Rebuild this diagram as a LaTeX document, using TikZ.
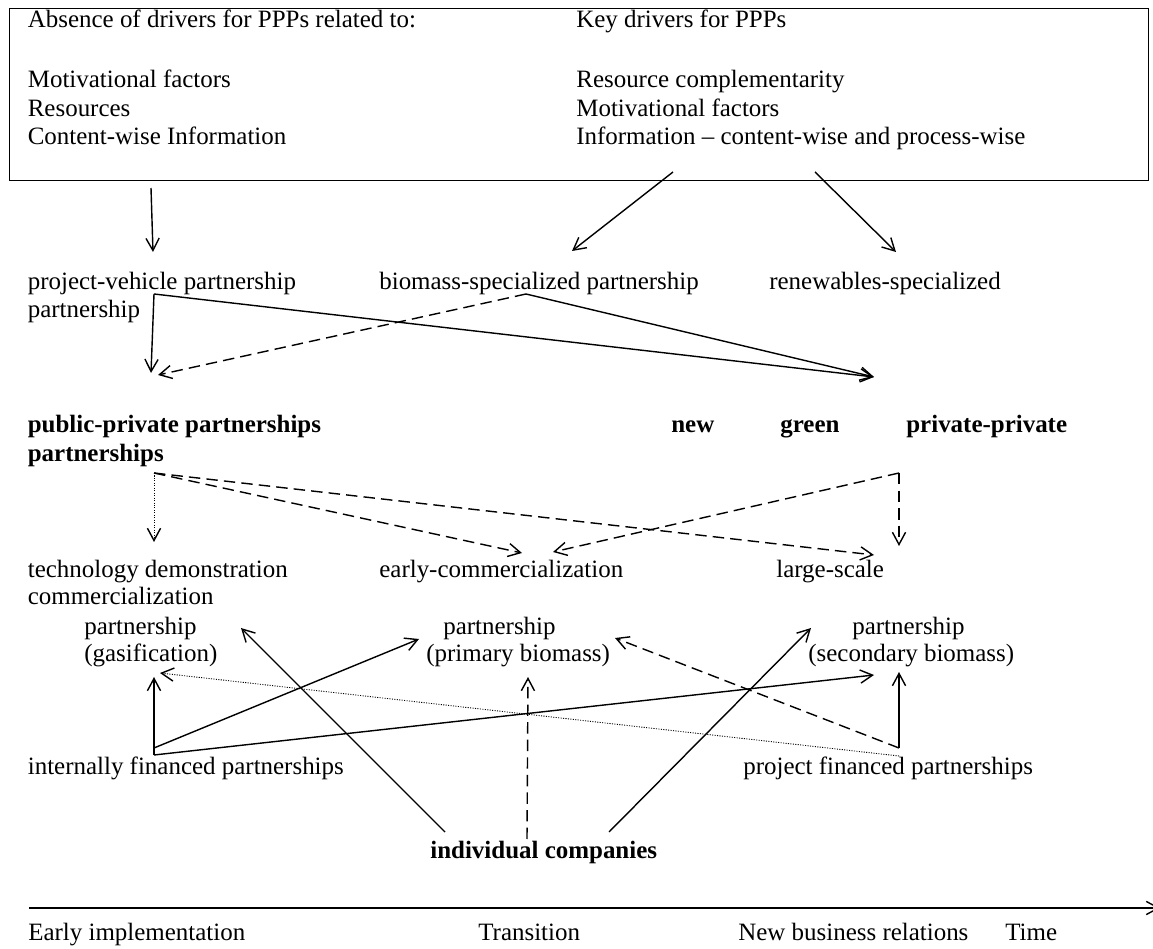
\documentclass[tikz,border=0pt]{standalone}
\usepackage{fontspec}
\setmainfont{Liberation Serif}
\usepackage{tikz}
\usetikzlibrary{arrows.meta}

\tikzset{
  txt/.style={anchor=base west, inner sep=0pt, font=\fontsize{14.2}{16.2}\selectfont},
  btxt/.style={txt, font=\fontsize{14.2}{16.2}\selectfont\bfseries},
  link/.style={line width=0.8pt, -{Straight Barb[length=7pt,width=7.5pt,line width=0.8pt]}},
  dlink/.style={link, dash pattern=on 6.5pt off 3.5pt},
  plink/.style={link, line width=0.5pt, dash pattern=on 0.6pt off 0.8pt},
}

\begin{document}
\begin{tikzpicture}
    \useasboundingbox (0,0) rectangle (23.06,18.96);

    % Drivers box
    \node[draw, line width=0.8pt, anchor=north west, inner sep=0pt,
          minimum width=22.78cm, minimum height=3.44cm] (drivers) at (0.18,18.80) {};
    \node[txt] (absence) at (0.55,18.40) {Absence of drivers for PPPs related to:};
    \node[txt] (motiv) at (0.55,17.20) {Motivational factors};
    \node[txt] (resources) at (0.55,16.62) {Resources};
    \node[txt] (content) at (0.55,16.06) {Content-wise Information};
    \node[txt] (key) at (11.52,18.40) {Key drivers for PPPs};
    \node[txt] (complement) at (11.52,17.20) {Resource complementarity};
    \node[txt] (motivkey) at (11.52,16.62) {Motivational factors};
    \node[txt] (info) at (11.52,16.06) {Information -- content-wise and process-wise};

    % Partnership types
    \node[txt] (pvp) at (0.55,13.16) {project-vehicle partnership};
    \node[txt] (pvpb) at (0.55,12.60) {partnership};
    \node[txt] (bsp) at (7.58,13.16) {biomass-specialized partnership};
    \node[txt] (rsp) at (15.38,13.16) {renewables-specialized};

    % Partner constellations
    \node[btxt] (ppp) at (0.55,10.30) {public-private partnerships};
    \node[btxt] (pppb) at (0.55,9.72) {partnerships};
    \node[btxt] (newp) at (13.42,10.30) {new};
    \node[btxt] (greenp) at (15.60,10.30) {green};
    \node[btxt] (privp) at (18.12,10.30) {private-private};

    % Stages
    \node[txt] (tdp) at (0.55,7.40) {technology demonstration};
    \node[txt] (tdpb) at (0.55,6.86) {commercialization};
    \node[txt] (ecp) at (7.58,7.40) {early-commercialization};
    \node[txt] (lsp) at (15.52,7.40) {large-scale};

    \node[txt] (gas) at (1.68,6.26) {partnership};
    \node[txt] (gasb) at (1.68,5.72) {(gasification)};
    \node[txt] (prim) at (8.86,6.26) {partnership};
    \node[txt] (primb) at (8.52,5.72) {(primary biomass)};
    \node[txt] (sec) at (17.04,6.26) {partnership};
    \node[txt] (secb) at (16.16,5.72) {(secondary biomass)};

    % Financing
    \node[txt] (ifp) at (0.55,3.46) {internally financed partnerships};
    \node[txt] (pfp) at (14.86,3.46) {project financed partnerships};
    \node[btxt] (ic) at (8.60,1.80) {individual companies};

    % Time line
    \node[txt] (early) at (0.56,0.16) {Early implementation};
    \node[txt] (trans) at (9.56,0.16) {Transition};
    \node[txt] (newrel) at (14.76,0.16) {New business relations};
    \node[txt] (time) at (20.10,0.16) {Time};

    % Connector points
    \coordinate (dA) at (3.02,15.20);
    \coordinate (dB) at (13.46,15.52);
    \coordinate (dC) at (16.30,15.52);
    \coordinate (pvpTop) at (3.06,13.92);
    \coordinate (bspTop) at (11.44,13.94);
    \coordinate (rspTop) at (17.92,13.92);
    \coordinate (pvpOut) at (3.08,13.08);
    \coordinate (bspOut) at (10.52,13.08);
    \coordinate (pppTop) at (3.02,11.50);
    \coordinate (pppTopB) at (3.16,11.46);
    \coordinate (privTop) at (17.48,11.42);
    \coordinate (pppOut) at (3.08,9.50);
    \coordinate (privOut) at (17.98,9.50);
    \coordinate (tdpTop) at (3.08,8.12);
    \coordinate (ecpL) at (10.44,7.90);
    \coordinate (ecpR) at (11.06,7.92);
    \coordinate (lspL) at (17.48,7.86);
    \coordinate (lspR) at (17.98,8.04);
    \coordinate (gasIn) at (3.08,5.42);
    \coordinate (gasInB) at (3.20,5.50);
    \coordinate (tdpIn) at (4.82,6.40);
    \coordinate (primIn) at (8.38,6.18);
    \coordinate (primInB) at (10.56,5.42);
    \coordinate (primInC) at (12.30,6.20);
    \coordinate (secIn) at (16.22,6.40);
    \coordinate (secInB) at (17.48,5.46);
    \coordinate (secInC) at (17.98,5.52);
    \coordinate (ifpOut) at (3.08,4.00);
    \coordinate (ifpOutB) at (3.08,3.86);
    \coordinate (pfpOut) at (17.98,4.00);
    \coordinate (pfpOutB) at (17.98,3.84);
    \coordinate (icA) at (8.90,2.32);
    \coordinate (icB) at (10.54,2.18);
    \coordinate (icC) at (12.18,2.32);
    \coordinate (tStart) at (0.58,0.80);
    \coordinate (tEnd) at (23.20,0.80);

    % Drivers to partnership types
    \draw[link] (dA) -- (pvpTop);
    \draw[link] (dB) -- (bspTop);
    \draw[link] (dC) -- (rspTop);

    % Partnership types to constellations
    \draw[link] (pvpOut) -- (pppTop);
    \draw[link] (pvpOut) -- (privTop);
    \draw[link] (bspOut) -- (privTop);
    \draw[dlink] (bspOut) -- (pppTopB);

    % Constellations to stages
    \draw[plink] (pppOut) -- (tdpTop);
    \draw[dlink] (pppOut) -- (ecpL);
    \draw[dlink] (pppOut) -- (lspL);
    \draw[dlink] (privOut) -- (ecpR);
    \draw[dlink] (privOut) -- (lspR);

    % Financing to stages
    \draw[link] (ifpOutB) -- (gasIn);
    \draw[link] (ifpOut) -- (primIn);
    \draw[link] (ifpOutB) -- (secInB);
    \draw[link] (pfpOut) -- (secInC);
    \draw[dlink] (pfpOut) -- (primInC);
    \draw[plink] (pfpOutB) -- (gasInB);

    % Individual companies
    \draw[link] (icA) -- (tdpIn);
    \draw[dlink] (icB) -- (primInB);
    \draw[link] (icC) -- (secIn);

    % Time axis
    \draw[link] (tStart) -- (tEnd);
\end{tikzpicture}
\end{document}
